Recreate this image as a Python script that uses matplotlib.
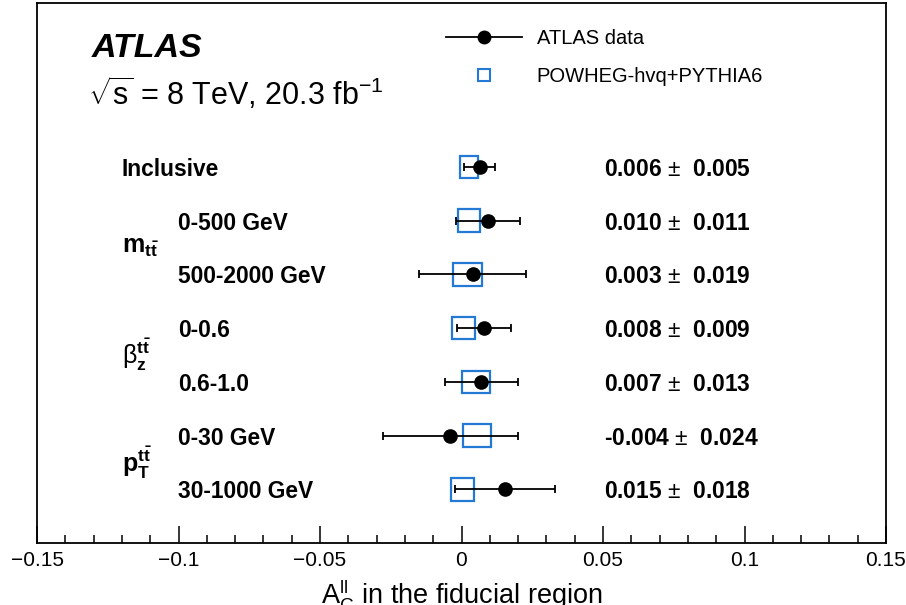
import matplotlib
matplotlib.use("Agg")
import matplotlib.pyplot as plt
from matplotlib.patches import Rectangle
from matplotlib.lines import Line2D
from matplotlib.ticker import MultipleLocator

plt.rcParams['font.family'] = ['Liberation Sans', 'DejaVu Sans']
plt.rcParams['mathtext.fontset'] = 'custom'
plt.rcParams['mathtext.rm'] = 'Liberation Sans'
plt.rcParams['mathtext.bf'] = 'Liberation Sans:bold'
plt.rcParams['mathtext.it'] = 'Liberation Sans:italic'

# ---- data ----
row_labels = ["Inclusive", "0-500 GeV", "500-2000 GeV", "0-0.6", "0.6-1.0", "0-30 GeV", "30-1000 GeV"]
row_indent = [0, 1, 1, 1, 1, 1, 1]
group_labels = [r"$\mathbf{m}_{\mathbf{t\bar{t}}}$",
                r"$\mathrm{\beta}_{\mathbf{z}}^{\mathbf{t\bar{t}}}$",
                r"$\mathbf{p}_{\mathbf{T}}^{\mathbf{t\bar{t}}}$"]
group_rows = [2.5, 4.5, 6.5]
data_val = [0.0064, 0.0095, 0.0039, 0.0080, 0.0070, -0.0039, 0.0153]
data_err = [0.0055, 0.0113, 0.0190, 0.0095, 0.0130, 0.0237, 0.0177]
value_text = ["0.006", "0.010", "0.003", "0.008", "0.007", "-0.004", "0.015"]
error_text = ["0.005", "0.011", "0.019", "0.009", "0.013", "0.024", "0.018"]
mc_val = [0.0026, 0.0027, 0.0021, 0.0006, 0.0052, 0.0054, 0.0004]
mc_err = [0.0032, 0.0040, 0.0051, 0.0041, 0.0050, 0.0050, 0.0041]
xticks = [-0.15, -0.1, -0.05, 0, 0.05, 0.1, 0.15]
xtick_labels = ["\u22120.15", "\u22120.1", "\u22120.05", "0", "0.05", "0.1", "0.15"]

blue = "#2379d3"
rows = list(range(1, len(row_labels) + 1))

fig = plt.figure(figsize=(9.06, 6.05), dpi=100)
ax = fig.add_axes([37/906, 1 - 543/605, (886 - 37)/906, 540/605])

box_h = 0.21
for y, c, e in zip(rows, mc_val, mc_err):
    ax.add_patch(Rectangle((c - e, y - box_h), 2 * e, 2 * box_h, fill=False,
                           edgecolor=blue, linewidth=1.6, zorder=2))

ax.errorbar(data_val, rows, xerr=data_err, fmt='o', color='black', ms=9.5,
            elinewidth=1.3, capsize=3, capthick=1.3, zorder=3)

ax.set_xlim(-0.15, 0.15)
ax.set_ylim(8.0, -2.05)
ax.set_yticks([])
ax.set_xticks(xticks)
ax.set_xticklabels(xtick_labels, fontsize=15)
ax.xaxis.set_minor_locator(MultipleLocator(0.01))
ax.tick_params(axis='x', which='major', direction='in', length=12, width=1.1, pad=6)
ax.tick_params(axis='x', which='minor', direction='in', length=6, width=1.1)
for s in ax.spines.values():
    s.set_linewidth(1.3)
ax.set_xlabel(r"$\mathrm{A}_{\mathrm{C}}^{\mathrm{ll}}$ in the fiducial region", fontsize=19.5, labelpad=5)

tr = ax.get_yaxis_transform()
for y, lab, ind in zip(rows, row_labels, row_indent):
    ax.text(0.100 if ind == 0 else 0.166, y, lab, transform=tr, fontsize=16.4,
            fontweight='bold', va='center_baseline', ha='left')
for y, v, e in zip(rows, value_text, error_text):
    ax.text(0.668, y, v + r" $\pm$  " + e, transform=tr, fontsize=16.4,
            fontweight='bold', va='center_baseline', ha='left')
for y, g in zip(group_rows, group_labels):
    ax.text(0.100, y, g, transform=tr, fontsize=18, va='center', ha='left')

fig.text(92/906, 1 - 57/605, "ATLAS", fontsize=24.5, fontweight='bold', fontstyle='italic')
fig.text(88/906, 1 - 105/605, r"$\sqrt{\mathrm{s}}$ = 8 TeV, 20.3 fb$^{\mathrm{-1}}$", fontsize=22)

handles = [Line2D([], [], color='black', marker='o', ms=9, lw=1.3),
           Line2D([], [], color=blue, marker='s', mfc='none', mec=blue, mew=1.5, ms=9, ls='none')]
leg = ax.legend(handles, ["ATLAS data", "POWHEG-hvq+PYTHIA6"], loc='upper left',
                bbox_to_anchor=(446/906, 1 - 29/605), bbox_transform=fig.transFigure,
                frameon=False, fontsize=14.5, handlelength=3.75, handletextpad=0.75,
                labelspacing=0.95, borderpad=0, borderaxespad=0)

fig.savefig("out.png", dpi=100)
